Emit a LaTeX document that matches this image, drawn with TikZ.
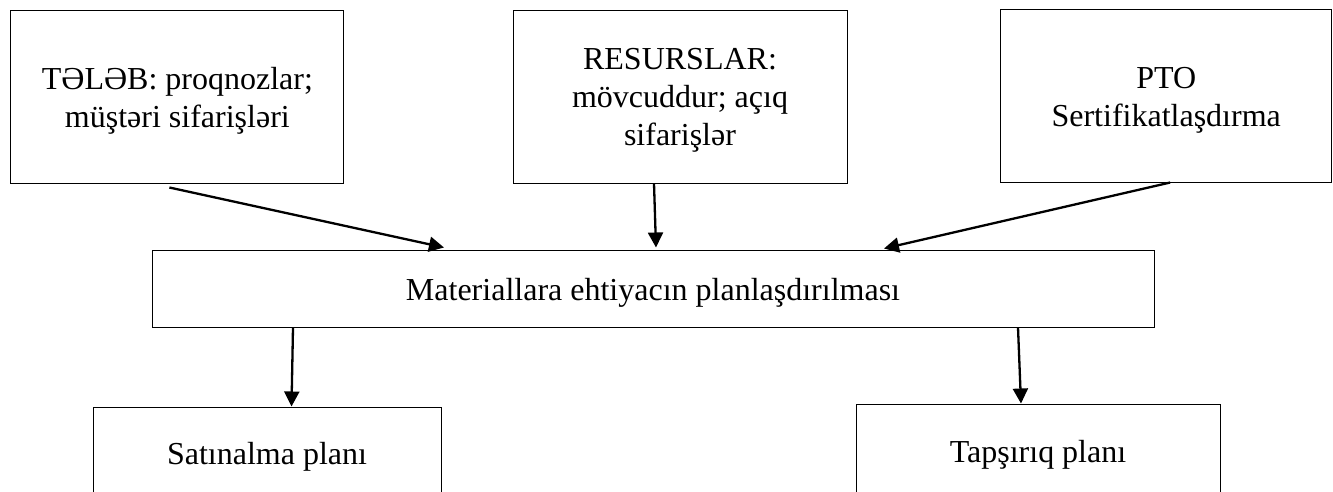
\documentclass[tikz,border=0pt]{standalone}
\usepackage{fontspec}
\setmainfont{Liberation Serif}
\usetikzlibrary{arrows.meta}
\newcommand\btxt[2][-4pt]{\raisebox{#1}[\height][\depth]{\begin{tabular}{@{}c@{}}#2\end{tabular}}}
\tikzset{
  box/.style={draw, line width=1pt, inner sep=0pt, font=\fontsize{32}{38}\selectfont},
  arr/.style={-{Triangle[length=15pt,width=15pt]}, line width=2.3pt},
}
\begin{document}
\begin{tikzpicture}[x=1pt,y=-1pt]
\useasboundingbox (0,0) rectangle (1333,491);
\clip (0,0) rectangle (1333,491);
\node[box, minimum width=333pt, minimum height=173pt] (tleb) at (177.4,96.5) {\btxt{TƏLƏB: proqnozlar;\\müştəri sifarişləri}};
\node[box, minimum width=334pt, minimum height=173pt] (res) at (680,96.5) {\btxt[-3.5pt]{RESURSLAR:\\mövcuddur; açıq\\sifarişlər}};
\node[box, minimum width=331pt, minimum height=173pt] (pto) at (1166.2,95.5) {\btxt{PTO\\Sertifikatlaşdırma}};
\node[box, minimum width=1002pt, minimum height=77pt] (mrp) at (653,288.5) {\btxt[-4.5pt]{Materiallara ehtiyacın planlaşdırılması}};
\node[box, minimum width=348pt, minimum height=100pt] (sat) at (267,457) {\btxt[0pt]{Satınalma planı}};
\node[box, minimum width=364pt, minimum height=102pt] (tap) at (1038,455) {\btxt[0pt]{Tapşırıq planı}};
\draw[arr] ([xshift=-8pt,yshift=-4pt]tleb.south) -- ([xshift=-209pt,yshift=2pt]mrp.north);
\draw[arr] ([xshift=-26pt]res.south) -- ([xshift=3pt,yshift=2pt]mrp.north);
\draw[arr] ([xshift=4pt]pto.south) -- ([xshift=231pt,yshift=1pt]mrp.north);
\draw[arr] ([xshift=-360pt]mrp.south) -- ([xshift=24.5pt]sat.north);
\draw[arr] ([xshift=365pt]mrp.south) -- ([xshift=-17pt]tap.north);
\end{tikzpicture}
\end{document}
